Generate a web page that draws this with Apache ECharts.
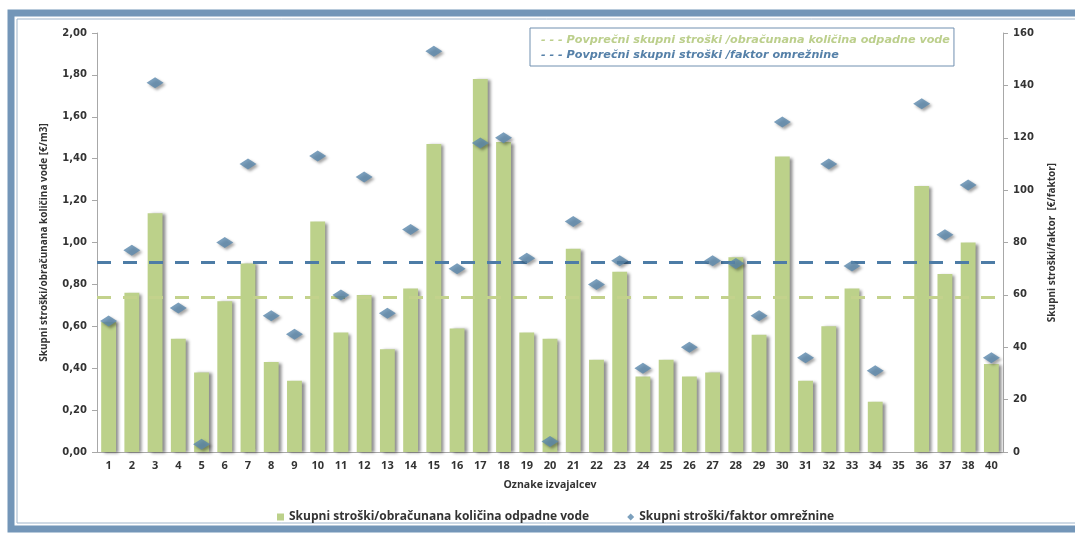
<!DOCTYPE html>
<html>
<head>
<meta charset="utf-8">
<script src="https://cdn.jsdelivr.net/npm/echarts@6/dist/echarts.min.js"></script>
<style>
html,body{margin:0;padding:0;background:#fff;}
#c{width:1075px;height:533px;}
</style>
</head>
<body>
<div id="c"></div>
<script>
const categories = ['1','2','3','4','5','6','7','8','9','10','11','12','13','14','15','16','17','18','19','20','21','22','23','24','25','26','27','28','29','30','31','32','33','34','35','36','37','38','40'];
const costPerVolume = [0.62,0.76,1.14,0.54,0.38,0.72,0.90,0.43,0.34,1.10,0.57,0.75,0.49,0.78,1.47,0.59,1.78,1.48,0.57,0.54,0.97,0.44,0.86,0.36,0.44,0.36,0.38,0.93,0.56,1.41,0.34,0.60,0.78,0.24,null,1.27,0.85,1.00,0.42];
const costPerFactor = [50,77,141,55,3,80,110,52,45,113,60,105,53,85,153,70,118,120,74,4,88,64,73,32,null,40,73,72,52,126,36,110,71,31,null,133,83,102,36];
const avgCostPerVolume = 0.74;
const avgCostPerFactor = 72.3;
const leftTicks = {min:0, max:2, interval:0.2};
const rightTicks = {min:0, max:160, interval:20};

const nameBar = 'Skupni stroški/obračunana količina odpadne vode';
const nameDia = 'Skupni stroški/faktor omrežnine';
const nameAvgA = 'Povprečni skupni stroški /obračunana količina odpadne vode';
const nameAvgB = 'Povprečni skupni stroški /faktor omrežnine';

const green = '#bcd18a';
const blue = '#5b88ad';
const axisFont = 'DejaVu Sans';
const labelFont = 'Open Sans';

const chart = echarts.init(document.getElementById('c'));
chart.setOption({
  backgroundColor:'#ffffff',
  animation:false,
  graphic:[
    {type:'rect', shape:{x:11,y:13,width:1080,height:516}, style:{fill:'none', stroke:'#7396b8', lineWidth:7}, z:-1},
    {type:'rect', shape:{x:17,y:19,width:1080,height:504}, style:{fill:'none', stroke:'#9fb5cb', lineWidth:1}, z:-1}
  ],
  grid:{left:97, right:72, top:33, bottom:81},
  legend:[
    {
      data:[{name:nameAvgA, textStyle:{color:'#bccf8c'}}, {name:nameAvgB, textStyle:{color:'#5580a8'}}],
      orient:'vertical', left:530, top:28,
      icon:'none', itemWidth:0, itemGap:3,
      padding:[5,4,5,6],
      borderColor:'#7190b0', borderWidth:1,
      formatter: n => '- - - ' + n,
      textStyle:{fontFamily:axisFont, fontSize:11.2, fontWeight:'bold', fontStyle:'italic', padding:0},
      selectedMode:false
    },
    {
      data:[{name:nameBar, icon:'rect'}, {name:nameDia, icon:'diamond'}],
      top:506, left:272, itemWidth:7, itemHeight:7, itemGap:38,
      textStyle:{fontFamily:labelFont, fontSize:12, fontWeight:'bold', color:'#333'},
      selectedMode:false
    }
  ],
  xAxis:{
    type:'category', data:categories,
    name:'Oznake izvajalcev', nameLocation:'middle', nameGap:28,
    nameTextStyle:{fontFamily:labelFont, fontSize:10.5, fontWeight:'bold', color:'#333'},
    axisLine:{lineStyle:{color:'#a8a8a8'}},
    axisTick:{interval:0, length:5, lineStyle:{color:'#a8a8a8'}},
    axisLabel:{interval:0, fontFamily:labelFont, fontSize:11, fontWeight:'bold', color:'#333', margin:8}
  },
  yAxis:[
    {
      type:'value', min:leftTicks.min, max:leftTicks.max, interval:leftTicks.interval,
      name:'Skupni stroški/obračunana količina vode [€/m3]', nameLocation:'middle', nameRotate:90, nameGap:48,
      nameTextStyle:{fontFamily:labelFont, fontSize:10, fontWeight:'bold', color:'#333'},
      axisLine:{show:true, lineStyle:{color:'#a8a8a8'}},
      axisTick:{show:true, length:5, lineStyle:{color:'#a8a8a8'}},
      splitLine:{show:false},
      axisLabel:{fontFamily:axisFont, fontSize:10, fontWeight:'bold', color:'#333', margin:10,
        formatter: v => v.toFixed(2).replace('.', ',')}
    },
    {
      type:'value', min:rightTicks.min, max:rightTicks.max, interval:rightTicks.interval, position:'right',
      name:'Skupni stroški/faktor  [€/faktor]', nameLocation:'middle', nameRotate:90, nameGap:44,
      nameTextStyle:{fontFamily:labelFont, fontSize:10, fontWeight:'bold', color:'#333'},
      axisLine:{show:true, lineStyle:{color:'#a8a8a8'}},
      axisTick:{show:true, length:5, lineStyle:{color:'#a8a8a8'}},
      splitLine:{show:false},
      axisLabel:{fontFamily:axisFont, fontSize:10, fontWeight:'bold', color:'#333', margin:10}
    }
  ],
  series:[
    {
      name:nameBar, type:'bar', data:costPerVolume, yAxisIndex:0, barWidth:'64%',
      itemStyle:{color:green, shadowColor:'rgba(0,0,0,0.45)', shadowBlur:3, shadowOffsetX:3, shadowOffsetY:1}
    },
    {
      name:nameDia, type:'scatter', data:costPerFactor, yAxisIndex:1,
      symbol:'diamond', symbolSize:[17,11], z:5,
      itemStyle:{color:blue, shadowColor:'rgba(0,0,0,0.45)', shadowBlur:3, shadowOffsetX:2, shadowOffsetY:2}
    },
    {
      name:nameAvgA, type:'line', yAxisIndex:0, data:[],
      lineStyle:{color:'#c7d590', type:[14,12], width:3}, itemStyle:{color:'#c7d590'}, z:4,
      markLine:{silent:true, symbol:'none', label:{show:false},
        lineStyle:{color:'#c3d28c', type:[14,12], width:3},
        data:[{yAxis:avgCostPerVolume}]}
    },
    {
      name:nameAvgB, type:'line', yAxisIndex:1, data:[],
      lineStyle:{color:'#4d7ca6', type:[14,12], width:3}, itemStyle:{color:'#4d7ca6'}, z:4,
      markLine:{silent:true, symbol:'none', label:{show:false},
        lineStyle:{color:'#4d7ca6', type:[14,12], width:3},
        data:[{yAxis:avgCostPerFactor}]}
    }
  ]
});
</script>
</body>
</html>
